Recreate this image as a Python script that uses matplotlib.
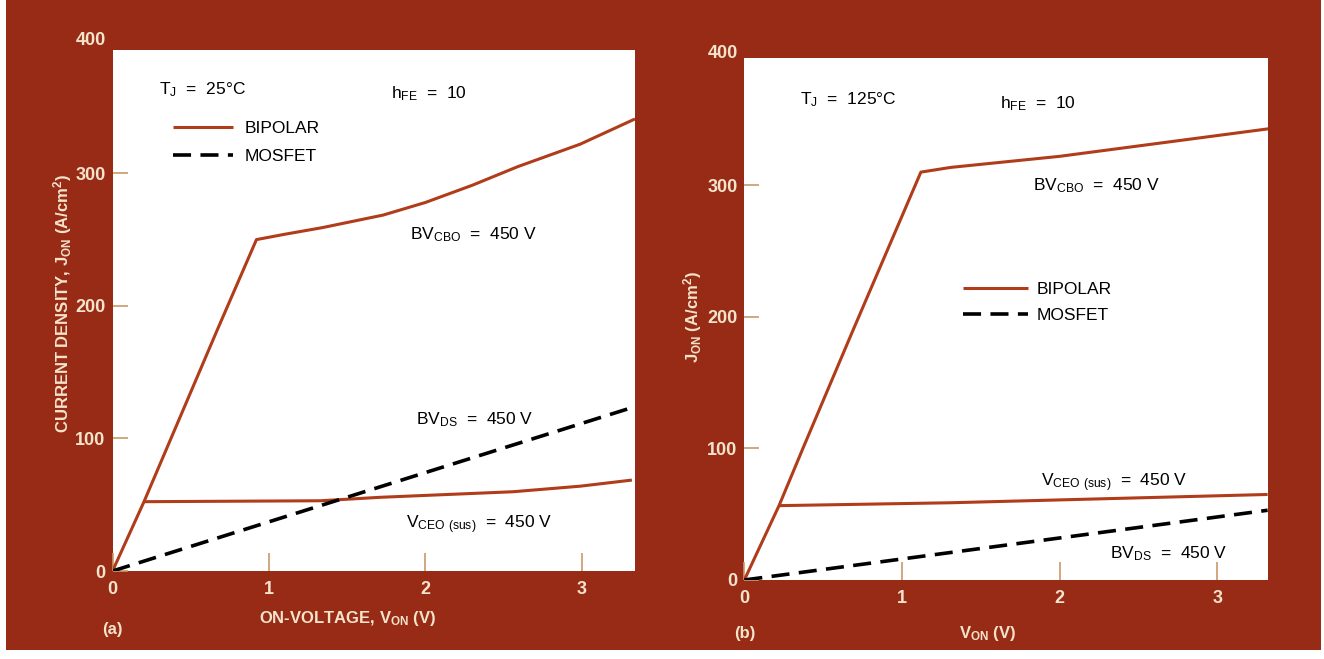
import matplotlib
matplotlib.use('Agg')
import matplotlib.pyplot as plt
from matplotlib.patches import Rectangle

plt.rcParams['font.family'] = ['Liberation Sans', 'DejaVu Sans']
plt.rcParams['mathtext.default'] = 'regular'

# ---- data ----
# panel (a), T_J = 25 C
a_bip_v = [0.0, 0.2, 0.67, 0.92, 1.1, 1.34, 1.73, 2.0, 2.3, 2.59, 2.99, 3.34]
a_bip_j = [0.0, 52, 182, 250, 254, 259, 268.5, 278, 291, 305, 322, 341]
a_ceo_v = [0.2, 1.33, 1.71, 2.56, 2.99, 3.32]
a_ceo_j = [52.3, 53, 55.6, 59.8, 64, 68.6]
a_mos_v = [0.0, 3.34]
a_mos_j = [0.0, 124]

# panel (b), T_J = 125 C
b_bip_v = [0.0, 0.22, 0.375, 0.69, 1.12, 1.31, 2.0, 3.33]
b_bip_j = [0.0, 56.5, 101, 190, 310, 313.6, 322, 343]
b_ceo_v = [0.22, 1.31, 3.32]
b_ceo_j = [56.5, 58.7, 65]
b_mos_v = [0.0, 3.32]
b_mos_j = [0.0, 53]

xticks = [0, 1, 2, 3]
yticks = [0, 100, 200, 300]

red = '#982b15'
line_red = '#b03c1a'
cream = '#f4e4cc'
tan = '#c99868'
fs_txt = 12.5
fs_tick = 13
fs_lab = 12

fig = plt.figure(figsize=(13.24, 6.59), dpi=100, facecolor='white')
fig.patches.append(Rectangle((0.0045, 0.014), 0.993, 0.986, transform=fig.transFigure,
                             facecolor=red, edgecolor='none', zorder=-10))

axa = fig.add_axes([0.085, 0.1335, 0.3946, 0.7906])
axb = fig.add_axes([0.5622, 0.1199, 0.3952, 0.792])


def style(ax, xmax, ymax):
    ax.set_facecolor('white')
    for s in ax.spines.values():
        s.set_visible(False)
    ax.set_xlim(0, xmax)
    ax.set_ylim(0, ymax)
    ax.set_xticks(xticks)
    ax.set_yticks(yticks)
    ax.tick_params(axis='x', direction='in', length=13, width=1.2, color=tan,
                   labelcolor=cream, labelsize=fs_tick, pad=7)
    ax.tick_params(axis='y', direction='in', length=11, width=1.2, color=tan,
                   labelcolor=cream, labelsize=fs_tick, pad=5)
    for t in ax.get_xticklabels() + ax.get_yticklabels():
        t.set_fontweight('bold')
    # top tick label sits just above the white panel
    ax.text(-0.012, 400, '400', transform=ax.get_yaxis_transform(), ha='right',
            va='center', color=cream, fontsize=fs_tick, fontweight='bold', clip_on=False)


def curves(ax, bv, bj, cv, cj, mv, mj):
    ax.plot(bv, bj, color=line_red, lw=2.2, label='BIPOLAR', solid_capstyle='butt')
    ax.plot(cv, cj, color=line_red, lw=2.2, solid_capstyle='butt')
    ax.plot(mv, mj, color='black', lw=2.6, dashes=(5, 2.6), label='MOSFET')


# ---- panel (a) ----
style(axa, 3.34, 393)
curves(axa, a_bip_v, a_bip_j, a_ceo_v, a_ceo_j, a_mos_v, a_mos_j)
axa.text(0.30, 363, r'T$_J$  =  25°C', fontsize=fs_txt, va='center')
axa.text(1.78, 360, r'h$_{FE}$  =  10', fontsize=fs_txt, va='center')
axa.text(1.90, 254, r'BV$_{CBO}$  =  450 V', fontsize=fs_txt, va='center')
axa.text(1.94, 114, r'BV$_{DS}$  =  450 V', fontsize=fs_txt, va='center')
axa.text(1.875, 35, r'V$_{CEO\ (sus)}$  =  450 V', fontsize=fs_txt, va='center')
axa.legend(loc='upper left', bbox_to_anchor=(0.116, 0.864), frameon=False,
           fontsize=fs_txt, handlelength=3.45, handletextpad=0.65, labelspacing=0.75,
           borderpad=0, borderaxespad=0)
axa.set_ylabel(r'CURRENT DENSITY, J$_{ON}$ (A/cm$^2$)', color=cream, fontsize=fs_lab,
               fontweight='bold')
axa.yaxis.set_label_coords(-0.074, 0.514)
axa.set_xlabel(r'ON-VOLTAGE, V$_{ON}$ (V)', color=cream, fontsize=fs_lab, fontweight='bold')
axa.xaxis.set_label_coords(0.4507, -0.073)
axa.text(0.0, -0.113, '(a)', transform=axa.transAxes, color=cream, fontsize=fs_lab,
         fontweight='bold', ha='center', va='center')

# ---- panel (b) ----
style(axb, 3.32, 396.7)
curves(axb, b_bip_v, b_bip_j, b_ceo_v, b_ceo_j, b_mos_v, b_mos_j)
axb.text(0.355, 365, r'T$_J$  =  125°C', fontsize=fs_txt, va='center')
axb.text(1.62, 362, r'h$_{FE}$  =  10', fontsize=fs_txt, va='center')
axb.text(1.83, 300, r'BV$_{CBO}$  =  450 V', fontsize=fs_txt, va='center')
axb.text(1.88, 74, r'V$_{CEO\ (sus)}$  =  450 V', fontsize=fs_txt, va='center')
axb.text(2.32, 20, r'BV$_{DS}$  =  450 V', fontsize=fs_txt, va='center')
axb.legend(loc='upper left', bbox_to_anchor=(0.418, 0.571), frameon=False,
           fontsize=fs_txt, handlelength=3.75, handletextpad=0.5, labelspacing=0.6,
           borderpad=0, borderaxespad=0)
axb.set_ylabel(r'J$_{ON}$ (A/cm$^2$)', color=cream, fontsize=fs_lab, fontweight='bold')
axb.yaxis.set_label_coords(-0.077, 0.504)
axb.set_xlabel(r'V$_{ON}$ (V)', color=cream, fontsize=fs_lab, fontweight='bold')
axb.xaxis.set_label_coords(0.464, -0.084)
axb.text(0.0, -0.103, '(b)', transform=axb.transAxes, color=cream, fontsize=fs_lab,
         fontweight='bold', ha='center', va='center')

fig.savefig('out.png', dpi=100, facecolor=fig.get_facecolor())
